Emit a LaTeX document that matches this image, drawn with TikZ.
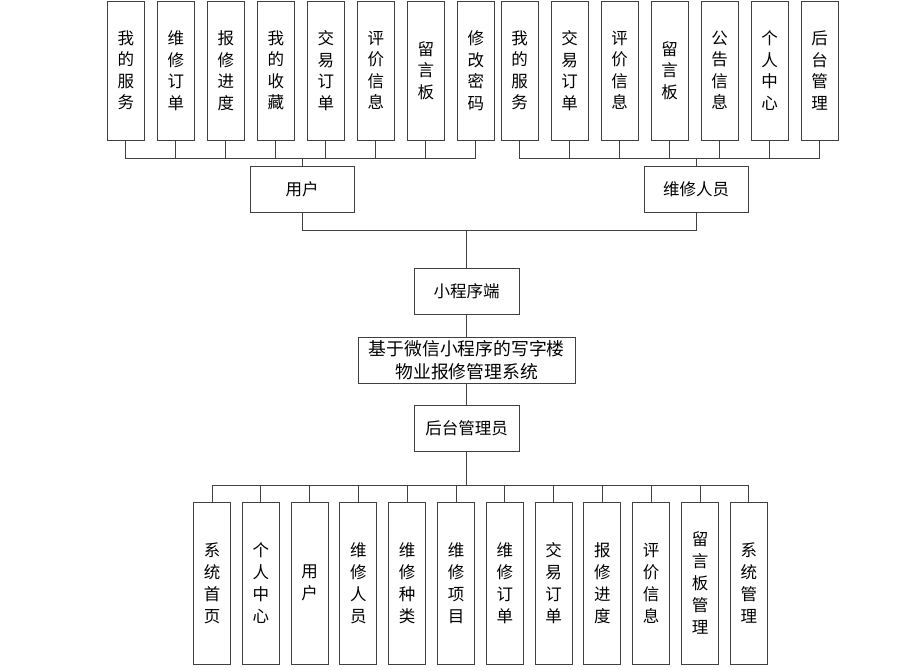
\documentclass[tikz,border=0pt]{standalone}
\usepackage{fontspec}
\setmainfont{Noto Sans CJK SC}
\begin{document}
\begin{tikzpicture}[x=1pt,y=-1pt,
  box/.style={draw=black!75,line width=1pt,inner sep=0pt,align=center,fill=white},
  tallbox/.style={box,minimum width=37pt,minimum height=139pt,font=\fontsize{16.5}{21.5}\selectfont},
  lowbox/.style={box,minimum width=37pt,minimum height=162pt,font=\fontsize{16.5}{22}\selectfont},
  midbox/.style={box,minimum height=46pt,font=\fontsize{16.5}{20}\selectfont},
  link/.style={draw=black!75,line width=1pt}]
\useasboundingbox (0,0) rectangle (924,670);
% user subitems
\foreach \t [count=\i] in {我\\的\\服\\务,维\\修\\订\\单,报\\修\\进\\度,我\\的\\收\\藏,交\\易\\订\\单,评\\价\\信\\息,留\\言\\板,修\\改\\密\\码}
  \node[tallbox] (u\i) at ({125.8+50*(\i-1)},70.5) {\t};
% worker subitems
\foreach \t [count=\i] in {我\\的\\服\\务,交\\易\\订\\单,评\\价\\信\\息,留\\言\\板,公\\告\\信\\息,个\\人\\中\\心,后\\台\\管\\理}
  \node[tallbox] (w\i) at ({519.6+50*(\i-1)},70.5) {\t};
% middle
\node[midbox,minimum width=104pt] (user) at (302,189.7) {用户};
\node[midbox,minimum width=104pt] (worker) at (696,189.7) {维修人员};
\node[midbox,minimum width=105pt] (mini) at (466.7,291.7) {小程序端};
\node[midbox,minimum width=217pt,font=\fontsize{17.8}{23.5}\selectfont] (sys) at (466.7,360) {基于微信小程序的写字楼\\物业报修管理系统};
\node[midbox,minimum width=105pt] (admin) at (466.7,428) {后台管理员};
% bottom subitems
\foreach \t [count=\i] in {系\\统\\首\\页,个\\人\\中\\心,用\\户,维\\修\\人\\员,维\\修\\种\\类,维\\修\\项\\目,维\\修\\订\\单,交\\易\\订\\单,报\\修\\进\\度,评\\价\\信\\息,留\\言\\板\\管\\理,系\\统\\管\\理}
  \node[lowbox] (b\i) at ({212+48.8*(\i-1)},583) {\t};
% junctions
\coordinate (ujoin) at (302,158);
\coordinate (wjoin) at (696,158);
\coordinate (cjoin) at (466.7,230);
\coordinate (bjoin) at (466.7,485);
% connectors
\foreach \i in {1,...,8} \draw[link] (u\i.south) |- (ujoin);
\foreach \i in {1,...,7} \draw[link] (w\i.south) |- (wjoin);
\draw[link] (ujoin) -- (user.north);
\draw[link] (wjoin) -- (worker.north);
\draw[link] (user.south) |- (cjoin);
\draw[link] (worker.south) |- (cjoin);
\draw[link] (cjoin) -- (mini.north);
\draw[link] (mini.south) -- (sys.north);
\draw[link] (sys.south) -- (admin.north);
\draw[link] (admin.south) -- (bjoin);
\foreach \i in {1,...,12} \draw[link] (b\i.north) |- (bjoin);
\end{tikzpicture}
\end{document}
